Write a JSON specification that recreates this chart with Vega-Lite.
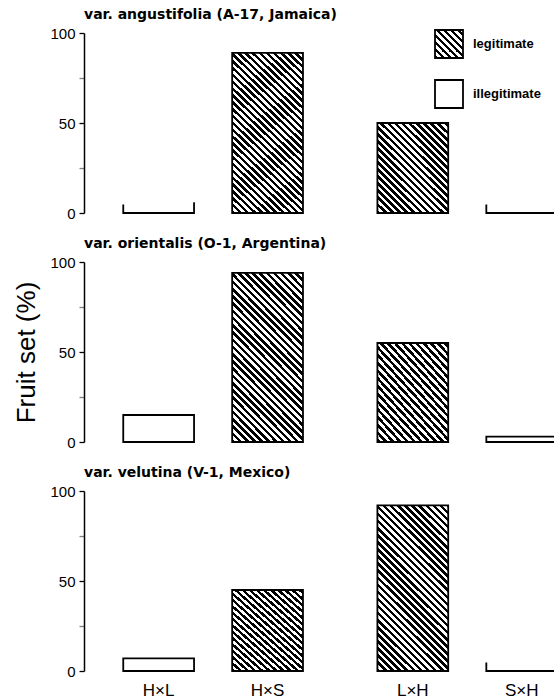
{
  "$schema": "https://vega.github.io/schema/vega-lite/v6.json",
  "padding": {"left": 13, "top": 8, "right": 0, "bottom": 0},
  "background": "white",
  "spacing": 16,
  "datasets": {
    "fruit": [
      {"variety": "angustifolia", "cross": "H×L", "type": "illegitimate", "value": 0},
      {"variety": "angustifolia", "cross": "H×S", "type": "legitimate", "value": 89},
      {"variety": "angustifolia", "cross": "L×H", "type": "legitimate", "value": 50},
      {"variety": "angustifolia", "cross": "S×H", "type": "illegitimate", "value": 0},
      {"variety": "orientalis", "cross": "H×L", "type": "illegitimate", "value": 15},
      {"variety": "orientalis", "cross": "H×S", "type": "legitimate", "value": 94},
      {"variety": "orientalis", "cross": "L×H", "type": "legitimate", "value": 55},
      {"variety": "orientalis", "cross": "S×H", "type": "illegitimate", "value": 3},
      {"variety": "velutina", "cross": "H×L", "type": "illegitimate", "value": 7},
      {"variety": "velutina", "cross": "H×S", "type": "legitimate", "value": 45},
      {"variety": "velutina", "cross": "L×H", "type": "legitimate", "value": 92},
      {"variety": "velutina", "cross": "S×H", "type": "illegitimate", "value": 0}
    ]
  },
  "resolve": {
    "scale": {"x": "independent", "y": "independent", "fill": "independent"},
    "axis": {"x": "independent", "y": "independent"},
    "legend": {"fill": "independent"}
  },
  "config": {
    "view": {"stroke": null},
    "font": "Liberation Sans",
    "bar": {"stroke": "black", "strokeWidth": 1.8},
    "title": {"font": "DejaVu Sans", "fontSize": 14, "fontWeight": "bold", "anchor": "start", "frame": "group", "color": "black", "offset": 0},
    "axis": {"labelColor": "black", "domainColor": "black", "tickColor": "black", "titleColor": "black"},
    "style": {
      "hatchTall": {"color": {"gradient": "linear", "x1": 0, "y1": 1, "x2": 0.5121, "y2": -0.207, "stops": [
        {"offset":0,"color":"#000"},
        {"offset":0.015,"color":"#000"},{"offset":0.015,"color":"#fff"},
        {"offset":0.03,"color":"#fff"},{"offset":0.03,"color":"#000"},
        {"offset":0.045,"color":"#000"},{"offset":0.045,"color":"#fff"},
        {"offset":0.06,"color":"#fff"},{"offset":0.06,"color":"#000"},
        {"offset":0.075,"color":"#000"},{"offset":0.075,"color":"#fff"},
        {"offset":0.09,"color":"#fff"},{"offset":0.09,"color":"#000"},
        {"offset":0.105,"color":"#000"},{"offset":0.105,"color":"#fff"},
        {"offset":0.12,"color":"#fff"},{"offset":0.12,"color":"#000"},
        {"offset":0.135,"color":"#000"},{"offset":0.135,"color":"#fff"},
        {"offset":0.15,"color":"#fff"},{"offset":0.15,"color":"#000"},
        {"offset":0.165,"color":"#000"},{"offset":0.165,"color":"#fff"},
        {"offset":0.18,"color":"#fff"},{"offset":0.18,"color":"#000"},
        {"offset":0.195,"color":"#000"},{"offset":0.195,"color":"#fff"},
        {"offset":0.21,"color":"#fff"},{"offset":0.21,"color":"#000"},
        {"offset":0.225,"color":"#000"},{"offset":0.225,"color":"#fff"},
        {"offset":0.24,"color":"#fff"},{"offset":0.24,"color":"#000"},
        {"offset":0.255,"color":"#000"},{"offset":0.255,"color":"#fff"},
        {"offset":0.27,"color":"#fff"},{"offset":0.27,"color":"#000"},
        {"offset":0.285,"color":"#000"},{"offset":0.285,"color":"#fff"},
        {"offset":0.3,"color":"#fff"},{"offset":0.3,"color":"#000"},
        {"offset":0.315,"color":"#000"},{"offset":0.315,"color":"#fff"},
        {"offset":0.33,"color":"#fff"},{"offset":0.33,"color":"#000"},
        {"offset":0.345,"color":"#000"},{"offset":0.345,"color":"#fff"},
        {"offset":0.36,"color":"#fff"},{"offset":0.36,"color":"#000"},
        {"offset":0.375,"color":"#000"},{"offset":0.375,"color":"#fff"},
        {"offset":0.39,"color":"#fff"},{"offset":0.39,"color":"#000"},
        {"offset":0.405,"color":"#000"},{"offset":0.405,"color":"#fff"},
        {"offset":0.42,"color":"#fff"},{"offset":0.42,"color":"#000"},
        {"offset":0.435,"color":"#000"},{"offset":0.435,"color":"#fff"},
        {"offset":0.45,"color":"#fff"},{"offset":0.45,"color":"#000"},
        {"offset":0.465,"color":"#000"},{"offset":0.465,"color":"#fff"},
        {"offset":0.48,"color":"#fff"},{"offset":0.48,"color":"#000"},
        {"offset":0.495,"color":"#000"},{"offset":0.495,"color":"#fff"},
        {"offset":0.51,"color":"#fff"},{"offset":0.51,"color":"#000"},
        {"offset":0.525,"color":"#000"},{"offset":0.525,"color":"#fff"},
        {"offset":0.54,"color":"#fff"},{"offset":0.54,"color":"#000"},
        {"offset":0.555,"color":"#000"},{"offset":0.555,"color":"#fff"},
        {"offset":0.57,"color":"#fff"},{"offset":0.57,"color":"#000"},
        {"offset":0.585,"color":"#000"},{"offset":0.585,"color":"#fff"},
        {"offset":0.6,"color":"#fff"},{"offset":0.6,"color":"#000"},
        {"offset":0.615,"color":"#000"},{"offset":0.615,"color":"#fff"},
        {"offset":0.63,"color":"#fff"},{"offset":0.63,"color":"#000"},
        {"offset":0.645,"color":"#000"},{"offset":0.645,"color":"#fff"},
        {"offset":0.66,"color":"#fff"},{"offset":0.66,"color":"#000"},
        {"offset":0.675,"color":"#000"},{"offset":0.675,"color":"#fff"},
        {"offset":0.69,"color":"#fff"},{"offset":0.69,"color":"#000"},
        {"offset":0.705,"color":"#000"},{"offset":0.705,"color":"#fff"},
        {"offset":0.72,"color":"#fff"},{"offset":0.72,"color":"#000"},
        {"offset":0.735,"color":"#000"},{"offset":0.735,"color":"#fff"},
        {"offset":0.75,"color":"#fff"},{"offset":0.75,"color":"#000"},
        {"offset":0.765,"color":"#000"},{"offset":0.765,"color":"#fff"},
        {"offset":0.78,"color":"#fff"},{"offset":0.78,"color":"#000"},
        {"offset":0.795,"color":"#000"},{"offset":0.795,"color":"#fff"},
        {"offset":0.81,"color":"#fff"},{"offset":0.81,"color":"#000"},
        {"offset":0.825,"color":"#000"},{"offset":0.825,"color":"#fff"},
        {"offset":0.84,"color":"#fff"},{"offset":0.84,"color":"#000"},
        {"offset":0.855,"color":"#000"},{"offset":0.855,"color":"#fff"},
        {"offset":0.87,"color":"#fff"},{"offset":0.87,"color":"#000"},
        {"offset":0.885,"color":"#000"},{"offset":0.885,"color":"#fff"},
        {"offset":0.9,"color":"#fff"},{"offset":0.9,"color":"#000"},
        {"offset":0.915,"color":"#000"},{"offset":0.915,"color":"#fff"},
        {"offset":0.93,"color":"#fff"},{"offset":0.93,"color":"#000"},
        {"offset":0.945,"color":"#000"},{"offset":0.945,"color":"#fff"},
        {"offset":0.96,"color":"#fff"},{"offset":0.96,"color":"#000"},
        {"offset":0.975,"color":"#000"},{"offset":0.975,"color":"#fff"},
        {"offset":0.99,"color":"#fff"},{"offset":0.99,"color":"#000"},
        {"offset":1,"color":"#000"}]}},
      "hatchShort": {"color": {"gradient": "linear", "x1": 0, "y1": 1, "x2": 0.8615, "y2": -0.1077, "stops": [
        {"offset":0,"color":"#000"},
        {"offset":0.022,"color":"#000"},{"offset":0.022,"color":"#fff"},
        {"offset":0.044,"color":"#fff"},{"offset":0.044,"color":"#000"},
        {"offset":0.066,"color":"#000"},{"offset":0.066,"color":"#fff"},
        {"offset":0.088,"color":"#fff"},{"offset":0.088,"color":"#000"},
        {"offset":0.11,"color":"#000"},{"offset":0.11,"color":"#fff"},
        {"offset":0.132,"color":"#fff"},{"offset":0.132,"color":"#000"},
        {"offset":0.154,"color":"#000"},{"offset":0.154,"color":"#fff"},
        {"offset":0.176,"color":"#fff"},{"offset":0.176,"color":"#000"},
        {"offset":0.198,"color":"#000"},{"offset":0.198,"color":"#fff"},
        {"offset":0.22,"color":"#fff"},{"offset":0.22,"color":"#000"},
        {"offset":0.242,"color":"#000"},{"offset":0.242,"color":"#fff"},
        {"offset":0.264,"color":"#fff"},{"offset":0.264,"color":"#000"},
        {"offset":0.286,"color":"#000"},{"offset":0.286,"color":"#fff"},
        {"offset":0.308,"color":"#fff"},{"offset":0.308,"color":"#000"},
        {"offset":0.33,"color":"#000"},{"offset":0.33,"color":"#fff"},
        {"offset":0.352,"color":"#fff"},{"offset":0.352,"color":"#000"},
        {"offset":0.374,"color":"#000"},{"offset":0.374,"color":"#fff"},
        {"offset":0.396,"color":"#fff"},{"offset":0.396,"color":"#000"},
        {"offset":0.418,"color":"#000"},{"offset":0.418,"color":"#fff"},
        {"offset":0.44,"color":"#fff"},{"offset":0.44,"color":"#000"},
        {"offset":0.462,"color":"#000"},{"offset":0.462,"color":"#fff"},
        {"offset":0.484,"color":"#fff"},{"offset":0.484,"color":"#000"},
        {"offset":0.506,"color":"#000"},{"offset":0.506,"color":"#fff"},
        {"offset":0.528,"color":"#fff"},{"offset":0.528,"color":"#000"},
        {"offset":0.55,"color":"#000"},{"offset":0.55,"color":"#fff"},
        {"offset":0.572,"color":"#fff"},{"offset":0.572,"color":"#000"},
        {"offset":0.594,"color":"#000"},{"offset":0.594,"color":"#fff"},
        {"offset":0.616,"color":"#fff"},{"offset":0.616,"color":"#000"},
        {"offset":0.638,"color":"#000"},{"offset":0.638,"color":"#fff"},
        {"offset":0.66,"color":"#fff"},{"offset":0.66,"color":"#000"},
        {"offset":0.682,"color":"#000"},{"offset":0.682,"color":"#fff"},
        {"offset":0.704,"color":"#fff"},{"offset":0.704,"color":"#000"},
        {"offset":0.726,"color":"#000"},{"offset":0.726,"color":"#fff"},
        {"offset":0.748,"color":"#fff"},{"offset":0.748,"color":"#000"},
        {"offset":0.77,"color":"#000"},{"offset":0.77,"color":"#fff"},
        {"offset":0.792,"color":"#fff"},{"offset":0.792,"color":"#000"},
        {"offset":0.814,"color":"#000"},{"offset":0.814,"color":"#fff"},
        {"offset":0.836,"color":"#fff"},{"offset":0.836,"color":"#000"},
        {"offset":0.858,"color":"#000"},{"offset":0.858,"color":"#fff"},
        {"offset":0.88,"color":"#fff"},{"offset":0.88,"color":"#000"},
        {"offset":0.902,"color":"#000"},{"offset":0.902,"color":"#fff"},
        {"offset":0.924,"color":"#fff"},{"offset":0.924,"color":"#000"},
        {"offset":0.946,"color":"#000"},{"offset":0.946,"color":"#fff"},
        {"offset":0.968,"color":"#fff"},{"offset":0.968,"color":"#000"},
        {"offset":0.99,"color":"#000"},{"offset":0.99,"color":"#fff"},
        {"offset":1,"color":"#fff"}]}}
    }
  },
  "vconcat": [
    {
      "width": 472, "height": 180,
      "title": {"text": "var. angustifolia (A-17, Jamaica)"},
      "data": {"name": "fruit"},
      "transform": [{"filter": "datum.variety == 'angustifolia'"}],
      "encoding": {
        "x": {"field": "cross", "type": "nominal", "scale": {"type": "band", "domain": ["H×L","g1","g2","H×S","g3","g4","g5","L×H","g6","g7","S×H"], "paddingInner": 0, "paddingOuter": 1.0738, "align": 0.778, "round": false}, "axis": null},
        "y": {"field": "value", "type": "quantitative", "scale": {"domain": [0, 100], "nice": false},
          "axis": {"values": [0,25,50,75,100], "labelExpr": "datum.value % 50 == 0 ? datum.label : ''", "tickOpacity": {"condition": {"test": "datum.value % 50 != 0", "value": 0.5}, "value": 1}, "grid": false, "title": null, "labelFontSize": 15, "tickSize": 5, "tickWidth": 1.3, "domainWidth": 1.5, "labelPadding": 4}}
      },
      "layer": [
        {"transform": [{"filter": "datum.type == 'illegitimate' && datum.value > 0"}],
         "mark": {"type": "bar", "width": {"band": 1.95}},
         "encoding": {"fill": {"field": "type", "type": "nominal",
           "scale": {"domain": ["legitimate", "illegitimate"], "range": [
             {"expr": "{gradient: 'linear', x1: 0, y1: 1, x2: 1, y2: 0, stops: [{offset: 0, color: '#000'}, {offset: 0.0625, color: '#000'}, {offset: 0.0625, color: '#fff'}, {offset: 0.125, color: '#fff'}, {offset: 0.125, color: '#000'}, {offset: 0.1875, color: '#000'}, {offset: 0.1875, color: '#fff'}, {offset: 0.25, color: '#fff'}, {offset: 0.25, color: '#000'}, {offset: 0.3125, color: '#000'}, {offset: 0.3125, color: '#fff'}, {offset: 0.375, color: '#fff'}, {offset: 0.375, color: '#000'}, {offset: 0.4375, color: '#000'}, {offset: 0.4375, color: '#fff'}, {offset: 0.5, color: '#fff'}, {offset: 0.5, color: '#000'}, {offset: 0.5625, color: '#000'}, {offset: 0.5625, color: '#fff'}, {offset: 0.625, color: '#fff'}, {offset: 0.625, color: '#000'}, {offset: 0.6875, color: '#000'}, {offset: 0.6875, color: '#fff'}, {offset: 0.75, color: '#fff'}, {offset: 0.75, color: '#000'}, {offset: 0.8125, color: '#000'}, {offset: 0.8125, color: '#fff'}, {offset: 0.875, color: '#fff'}, {offset: 0.875, color: '#000'}, {offset: 0.9375, color: '#000'}, {offset: 0.9375, color: '#fff'}, {offset: 1, color: '#fff'}]}"},
             "white"]},
           "legend": {"title": null, "orient": "none", "legendX": 350, "legendY": -4, "padding": 0, "symbolType": "square", "symbolSize": 784, "symbolStrokeColor": "black", "symbolStrokeWidth": 1.8, "labelFontSize": 13, "labelFontWeight": "bold", "labelColor": "black", "labelOffset": 9, "rowPadding": 14}}}},
        {"transform": [{"filter": "datum.type == 'legitimate' && datum.value > 70"}],
         "mark": {"type": "bar", "width": {"band": 1.95}, "style": "hatchTall"}},
        {"transform": [{"filter": "datum.type == 'legitimate' && datum.value <= 70"}],
         "mark": {"type": "bar", "width": {"band": 1.95}, "style": "hatchShort"}},
        {"transform": [{"filter": "datum.value == 0"}],
         "mark": {"type": "bar", "width": {"band": 1.95}, "fill": "transparent", "strokeDash": [0, 70, 90, 300]},
         "encoding": {"y2": {"datum": 5.5}}}
      ]
    },
    {
      "width": 472, "height": 180,
      "title": {"text": "var. orientalis (O-1, Argentina)"},
      "data": {"name": "fruit"},
      "transform": [{"filter": "datum.variety == 'orientalis'"}],
      "encoding": {
        "x": {"field": "cross", "type": "nominal", "scale": {"type": "band", "domain": ["H×L","g1","g2","H×S","g3","g4","g5","L×H","g6","g7","S×H"], "paddingInner": 0, "paddingOuter": 1.0738, "align": 0.778, "round": false}, "axis": null},
        "y": {"field": "value", "type": "quantitative", "scale": {"domain": [0, 100], "nice": false},
          "axis": {"values": [0,25,50,75,100], "labelExpr": "datum.value % 50 == 0 ? datum.label : ''", "tickOpacity": {"condition": {"test": "datum.value % 50 != 0", "value": 0.5}, "value": 1}, "grid": false, "title": "Fruit set (%)", "titleFontSize": 26, "titleFontWeight": "normal", "titleFont": "Liberation Sans", "titlePadding": 10, "labelFontSize": 15, "tickSize": 5, "tickWidth": 1.3, "domainWidth": 1.5, "labelPadding": 4}}
      },
      "layer": [
        {"transform": [{"filter": "datum.type == 'illegitimate' && datum.value > 0"}],
         "mark": {"type": "bar", "width": {"band": 1.95}, "fill": "white"}},
        {"transform": [{"filter": "datum.type == 'legitimate' && datum.value > 70"}],
         "mark": {"type": "bar", "width": {"band": 1.95}, "style": "hatchTall"}},
        {"transform": [{"filter": "datum.type == 'legitimate' && datum.value <= 70"}],
         "mark": {"type": "bar", "width": {"band": 1.95}, "style": "hatchShort"}},
        {"transform": [{"filter": "datum.value == 0"}],
         "mark": {"type": "bar", "width": {"band": 1.95}, "fill": "transparent", "strokeDash": [0, 70, 90, 300]},
         "encoding": {"y2": {"datum": 5.5}}}
      ]
    },
    {
      "width": 472, "height": 180,
      "title": {"text": "var. velutina (V-1, Mexico)"},
      "data": {"name": "fruit"},
      "transform": [{"filter": "datum.variety == 'velutina'"}],
      "encoding": {
        "x": {"field": "cross", "type": "nominal", "scale": {"type": "band", "domain": ["H×L","g1","g2","H×S","g3","g4","g5","L×H","g6","g7","S×H"], "paddingInner": 0, "paddingOuter": 1.0738, "align": 0.778, "round": false},
          "axis": {"values": ["H×L","H×S","L×H","S×H"], "domain": false, "ticks": false, "labelFontSize": 17, "labelPadding": 11, "labelAngle": 0, "title": null}},
        "y": {"field": "value", "type": "quantitative", "scale": {"domain": [0, 100], "nice": false},
          "axis": {"values": [0,25,50,75,100], "labelExpr": "datum.value % 50 == 0 ? datum.label : ''", "tickOpacity": {"condition": {"test": "datum.value % 50 != 0", "value": 0.5}, "value": 1}, "grid": false, "title": null, "labelFontSize": 15, "tickSize": 5, "tickWidth": 1.3, "domainWidth": 1.5, "labelPadding": 4}}
      },
      "layer": [
        {"transform": [{"filter": "datum.type == 'illegitimate' && datum.value > 0"}],
         "mark": {"type": "bar", "width": {"band": 1.95}, "fill": "white"}},
        {"transform": [{"filter": "datum.type == 'legitimate' && datum.value > 70"}],
         "mark": {"type": "bar", "width": {"band": 1.95}, "style": "hatchTall"}},
        {"transform": [{"filter": "datum.type == 'legitimate' && datum.value <= 70"}],
         "mark": {"type": "bar", "width": {"band": 1.95}, "style": "hatchShort"}},
        {"transform": [{"filter": "datum.value == 0"}],
         "mark": {"type": "bar", "width": {"band": 1.95}, "fill": "transparent", "strokeDash": [0, 70, 90, 300]},
         "encoding": {"y2": {"datum": 5.5}}}
      ]
    }
  ]
}
